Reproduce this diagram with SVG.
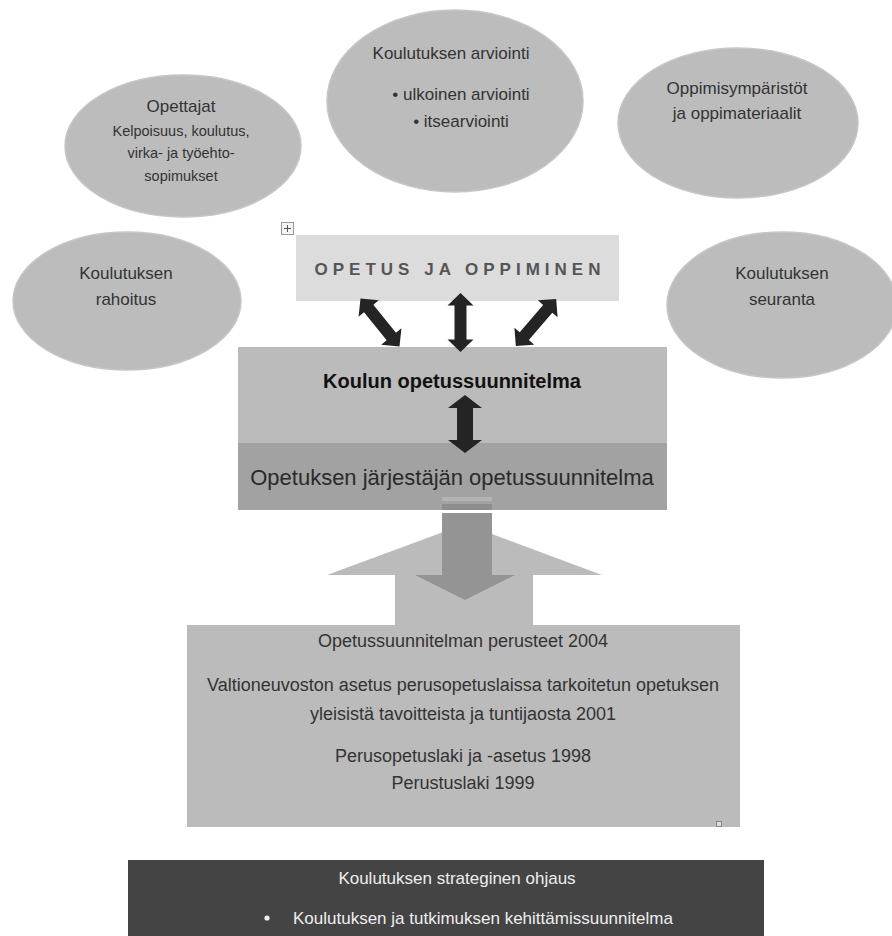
<svg xmlns="http://www.w3.org/2000/svg" width="892" height="936" viewBox="0 0 892 936">
<style>
.ell{fill:#bcbcbc;stroke:#c6c6c6;stroke-width:1.5}
.t{font-family:"Liberation Sans",Arial,sans-serif;fill:#333;text-anchor:middle}
.e17{font-size:17px}
.e14{font-size:14.5px}
.b18{font-size:18px}
.dark{fill:#242424}
</style>
<defs>
<path id="dbl" d="M0,-31 L13,-18 L6,-18 L6,18 L13,18 L0,31 L-13,18 L-6,18 L-6,-18 L-13,-18 Z"/>
</defs>
<rect width="892" height="936" fill="#fff"/>

<g id="opettajat">
<ellipse class="ell" cx="183" cy="146" rx="118" ry="71"/>
<text class="t e17" x="181" y="112">Opettajat</text>
<text class="t e14" x="181" y="136">Kelpoisuus, koulutus,</text>
<text class="t e14" x="181" y="158">virka- ja työehto-</text>
<text class="t e14" x="181" y="181">sopimukset</text>
</g>

<g id="arviointi">
<ellipse class="ell" cx="455" cy="101" rx="128" ry="91"/>
<text class="t e17" x="451" y="59">Koulutuksen arviointi</text>
<text class="t e17" x="461" y="100">• ulkoinen arviointi</text>
<text class="t e17" x="461" y="127">• itsearviointi</text>
</g>

<g id="oppimisymparistot">
<ellipse class="ell" cx="738" cy="123" rx="120" ry="75"/>
<text class="t e17" x="737" y="94">Oppimisympäristöt</text>
<text class="t e17" x="737" y="119">ja oppimateriaalit</text>
</g>

<g id="rahoitus">
<ellipse class="ell" cx="127" cy="301" rx="114" ry="69"/>
<text class="t e17" x="126" y="279">Koulutuksen</text>
<text class="t e17" x="126" y="305">rahoitus</text>
</g>

<g id="seuranta">
<ellipse class="ell" cx="782" cy="305" rx="115" ry="73"/>
<text class="t e17" x="782" y="279">Koulutuksen</text>
<text class="t e17" x="782" y="305">seuranta</text>
</g>

<g id="move-handle">
<rect x="281.5" y="222.5" width="12" height="12" fill="#f4f4f4" stroke="#999" stroke-width="1"/>
<path d="M287.5,225 V232 M284,228.5 H291" stroke="#555" stroke-width="1" fill="none"/>
</g>

<g id="opetus-ja-oppiminen">
<rect x="296" y="235" width="323" height="66" fill="#dcdcdc"/>
<text class="t" x="460" y="275" style="font-size:17px;font-weight:bold;letter-spacing:5px;fill:#555">OPETUS JA OPPIMINEN</text>
</g>

<g id="koulun-ops">
<rect x="238" y="347" width="429" height="96" fill="#bbbbbb"/>
<text class="t" x="452" y="388" style="font-size:20px;font-weight:bold;fill:#111">Koulun opetussuunnitelma</text>
</g>

<g id="jarjestajan-ops">
<rect x="238" y="443" width="429" height="67" fill="#a2a2a2"/>
<text class="t" x="452" y="485" style="font-size:22px;fill:#2a2a2a">Opetuksen järjestäjän opetussuunnitelma</text>
</g>

<g id="perusteet">
<rect x="187" y="625" width="553" height="202" fill="#bbbbbb"/>
<text class="t b18" x="463" y="647">Opetussuunnitelman perusteet 2004</text>
<text class="t b18" x="463" y="691">Valtioneuvoston asetus perusopetuslaissa tarkoitetun opetuksen</text>
<text class="t b18" x="463" y="720">yleisistä tavoitteista ja tuntijaosta 2001</text>
<text class="t b18" x="463" y="762">Perusopetuslaki ja -asetus 1998</text>
<text class="t b18" x="463" y="789">Perustuslaki 1999</text>
<rect x="716.5" y="821.5" width="5" height="5" fill="#ddd" stroke="#888" stroke-width="1"/>
</g>

<g id="strateginen-ohjaus">
<rect x="128" y="860" width="636" height="76" fill="#444444"/>
<text class="t" x="457" y="884" style="font-size:17px;fill:#eee">Koulutuksen strateginen ohjaus</text>
<circle cx="267" cy="918" r="2.6" fill="#eee"/>
<text class="t" x="293" y="924" style="font-size:17px;fill:#eee;text-anchor:start">Koulutuksen ja tutkimuksen kehittämissuunnitelma</text>
</g>

<g id="connectors">
<use href="#dbl" class="dark" transform="translate(380,322.5) rotate(-39)"/>
<use href="#dbl" class="dark" transform="translate(460.5,322.5) scale(1,0.95)"/>
<use href="#dbl" class="dark" transform="translate(536,322.5) rotate(40.6)"/>
<path class="dark" d="M465,395 L482,408 L473,408 L473,440 L482,440 L465,453 L448,440 L457,440 L457,408 L448,408 Z"/>
<rect x="442" y="497" width="50" height="4" fill="#b4b4b4"/>
<rect x="442" y="504" width="50" height="6" fill="#8e8e8e"/>
<path d="M465,524 L602,575 L533,575 L533,626 L395,626 L395,575 L327,575 Z" fill="#bbbbbb"/>
<path d="M442,513 L492,513 L492,575 L515,575 L465,600 L415,575 L442,575 Z" fill="#949494"/>
</g>
</svg>
